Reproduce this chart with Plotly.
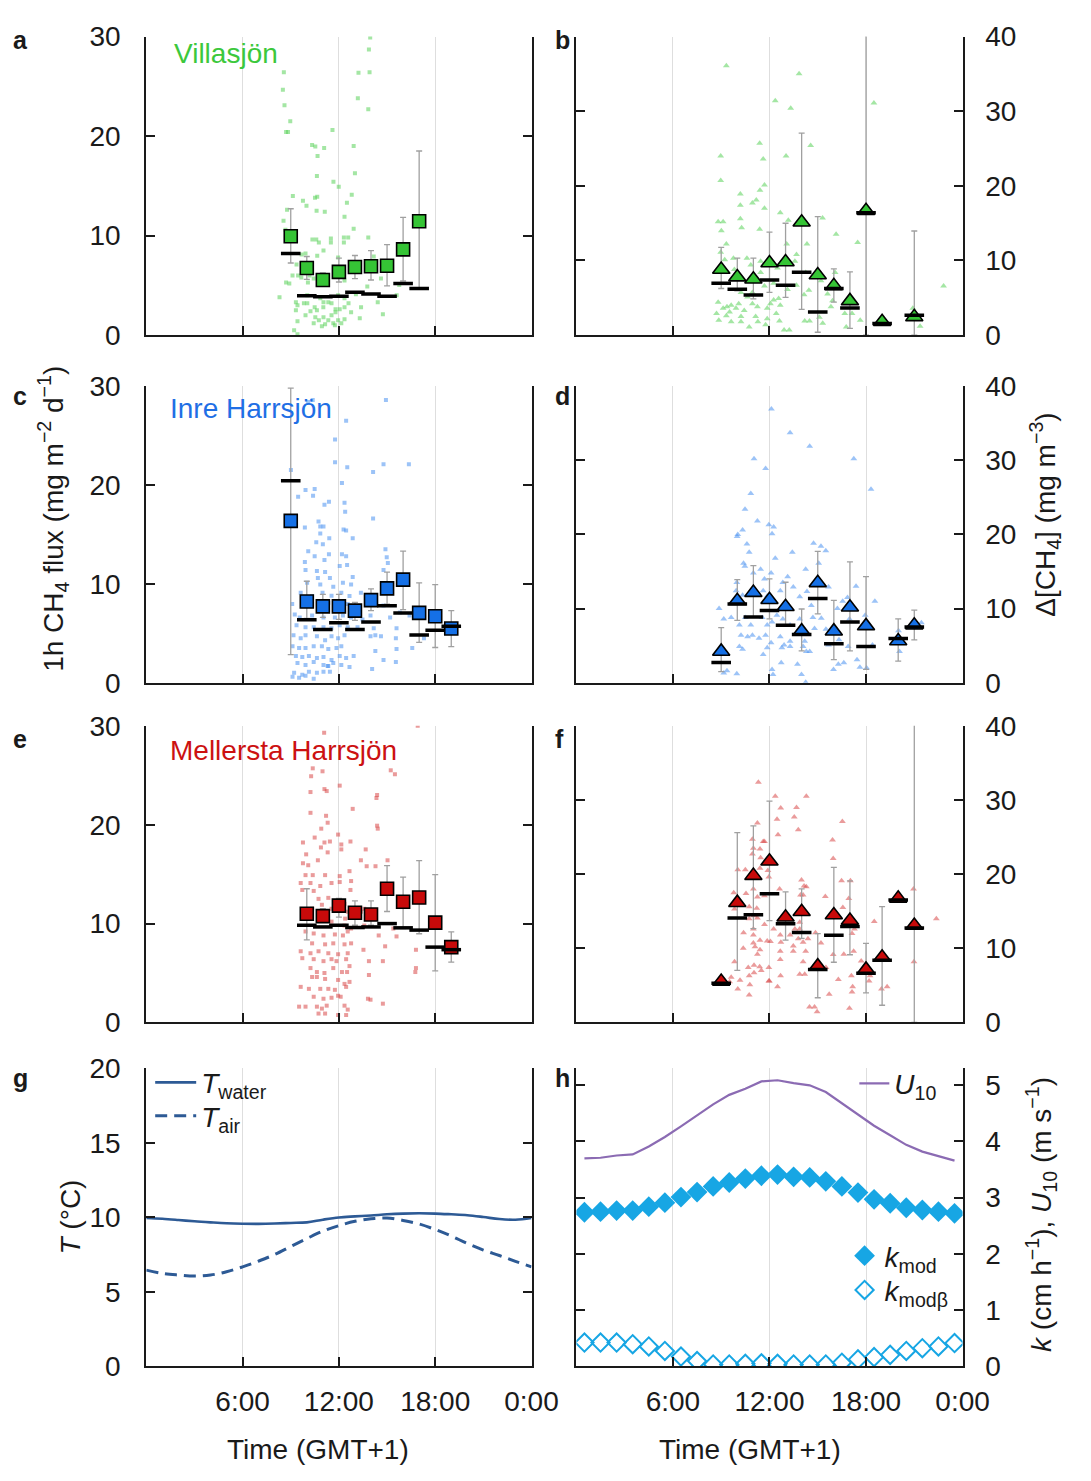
import plotly.graph_objects as go

FONT = "Liberation Sans, Arial, Helvetica, sans-serif"
INK = "#1a1a1a"
W, H = 1091, 1481

# ---------------- data ----------------
# a: Villasjön, 1 h CH4 flux (mg m-2 d-1)
A_PTS = [(8.57,26.4),(8.51,24.65),(8.61,23.1),(8.97,21.5),(8.71,20.4),(8.83,20.4),(13.95,29.9),(13.87,28.7),
         (13.91,26.4),(13.22,26.35),(13.18,23.8),(13.83,22.7),(11.6,20.6),(10.33,19.1),(10.53,18.95),(11.08,18.8),
         (10.67,18.0),(12.92,19.0),(10.63,16.0),(11.66,15.4),(11.99,14.9),(13.0,16.26),(9.13,13.97),(9.76,13.5),
         (10.51,13.8),(10.65,13.9),(12.8,14.1),(9.98,13.0),(8.77,12.6),(10.61,12.5),(11.12,12.4),(12.5,13.3),
         (12.35,11.9),(8.55,11.5),(12.92,10.7),(8.67,10.6),(10.35,9.6),(10.59,9.6),(11.5,9.7),(12.31,9.8),
         (12.58,9.8),(13.83,9.8),(10.75,9.3),(11.5,9.3),(12.31,9.3),(11.04,8.5),(10.65,7.98),(11.95,7.8),
         (14.17,7.9),(9.68,8.1),(9.92,8.2),(9.36,7.1),(9.11,5.99),(9.46,5.99),(9.66,5.8),(10.17,5.99),(10.43,5.7),
         (8.71,5.3),(8.91,5.2),(10.07,5.3),(11.06,5.5),(12.35,5.5),(14.62,5.7),(15.76,5.05),(8.3,3.81),(9.32,3.3),
         (9.42,3.0),(10.03,3.2),(10.03,4.0),(11.54,3.2),(12.35,3.7),(12.6,3.2),(14.42,3.3),(13.38,2.8),(9.32,2.5),
         (10.63,2.5),(11.03,2.8),(11.79,2.6),(12.05,2.6),(11.79,2.3),(12.76,2.3),(14.74,2.1),(9.92,2.0),(10.53,1.8),
         (11.04,1.8),(11.54,2.0),(13.3,1.7),(9.42,1.4),(10.75,1.5),(11.34,1.5),(11.95,1.5),(10.43,1.2),(11.14,1.1),
         (11.65,1.2),(12.15,1.2),(9.21,0.5),(9.42,0.1),(10.94,0.9),(11.75,1.0),(12.35,1.6),(9.82,3.2),(10.84,3.7),
         (11.34,3.3),(12.35,2.8),(13.06,4.1),(13.77,4.9),(11.95,4.0),(15.6,4.0),(11.04,3.3),(10.23,2.4),(10.49,2.8)]
HOURS_A = [9, 10, 11, 12, 13, 14, 15, 16, 17]
MEAN_A = [9.93, 6.75, 5.54, 6.36, 6.85, 6.92, 6.98, 8.62, 11.44]
MED_A = [8.2, 3.97, 3.87, 3.9, 4.3, 4.13, 3.9, 5.2, 4.69]
HI_A = [12.7, 7.9, 6.26, 7.74, 8.0, 8.49, 9.1, 11.83, 18.5]
LO_A = [7.25, 5.6, 4.95, 5.34, 5.67, 5.54, 4.95, 5.44, 4.6]

# b: Villasjön, delta CH4 (mg m-3)
B_PTS = [(9.32,36.1),(13.84,35.0),(12.36,31.4),(13.32,30.4),(18.49,31.1),(11.39,25.7),(11.61,23.6),(13.03,24.0),
         (14.56,25.4),(8.97,24.0),(8.97,20.7),(11.69,20.1),(11.41,19.4),(10.19,18.9),(10.19,17.4),(10.94,17.7),
         (11.18,18.1),(11.69,17.0),(12.67,16.4),(13.17,15.4),(15.3,15.7),(8.81,15.2),(9.12,15.2),(9.01,14.0),
         (10.19,15.6),(10.27,14.4),(11.39,14.2),(16.14,13.5),(17.48,12.4),(14.33,12.2),(9.32,12.2),(8.97,11.1),
         (13.07,12.2),(13.68,10.8),(9.22,10.1),(9.76,10.3),(10.6,10.3),(11.45,9.9),(10.84,9.4),(12.5,9.0),
         (13.58,9.9),(14.25,8.4),(9.82,8.8),(9.42,8.4),(16.08,8.4),(11.69,6.6),(11.45,8.4),(12.26,6.95),
         (13.68,6.7),(14.45,6.0),(14.15,5.4),(15.2,7.3),(15.61,5.5),(12.57,4.9),(13.12,6.1),(10.23,5.7),
         (10.64,5.1),(10.94,5.7),(15.82,3.8),(15.92,4.6),(8.81,4.4),(9.12,3.6),(9.36,3.8),(9.62,4.0),(9.92,3.6),
         (10.09,4.2),(9.52,3.1),(10.43,3.3),(10.94,4.2),(11.25,3.8),(11.86,3.6),(12.06,4.2),(12.26,4.7),
         (12.67,4.0),(8.71,2.9),(8.85,2.0),(9.32,2.6),(9.62,1.8),(10.23,2.5),(10.23,1.8),(10.74,1.1),(11.14,2.5),
         (11.28,1.8),(11.86,2.2),(11.76,1.4),(12.42,2.9),(12.62,1.9),(12.91,0.7),(13.23,0.7),(14.19,1.9),
         (14.49,1.9),(15.1,2.4),(15.31,1.6),(16.68,2.9),(17.13,2.9),(16.77,1.1),(17.64,2.0),(20.91,3.6),
         (21.36,1.2),(22.82,6.6)]
HOURS_B = [9, 10, 11, 12, 13, 14, 15, 16, 17, 18, 19, 21]
MEAN_B = [8.79, 7.78, 7.48, 9.66, 9.79, 15.13, 8.05, 6.6, 4.59, 16.66, 1.79, 2.45]
MED_B = [6.95, 6.16, 5.38, 7.39, 6.69, 8.43, 3.1, 6.25, 3.63, 16.4, 1.57, 2.66]
HI_B = [11.76, 10.32, 10.32, 13.8, 14.99, 27.06, 15.87, 8.88, 8.48, 42.0, 1.79, 13.95]
LO_B = [6.25, 5.94, 4.85, 5.73, 5.07, 3.45, 0.39, 4.42, 0.92, 0.0, 1.79, 0.0]

# c: Inre Harrsjön, flux
C_PTS = [(10.37,28.6),(10.09,28.4),(14.93,28.6),(12.45,26.5),(11.76,24.6),(11.76,22.3),(12.52,21.8),(14.78,22.1),
         (14.13,21.3),(16.36,22.1),(9.01,21.5),(9.92,19.5),(10.49,19.6),(9.46,18.8),(10.39,18.9),(11.1,18.0),
         (11.38,18.3),(12.19,20.2),(12.35,18.2),(12.39,17.3),(14.13,16.6),(9.88,15.7),(10.73,16.3),(10.84,15.8),
         (11.04,15.8),(12.29,15.5),(12.45,15.4),(12.86,14.6),(10.84,15.1),(11.4,14.6),(10.59,14.2),(11.0,14.0),
         (10.09,13.3),(10.49,12.8),(11.1,12.4),(11.38,13.0),(12.19,13.0),(12.45,12.8),(12.05,11.8),(12.51,11.9),
         (9.88,12.2),(9.92,11.4),(10.63,11.3),(11.14,11.2),(12.86,10.7),(14.9,13.5),(14.98,12.7),(15.05,12.1),
         (14.78,11.4),(10.69,10.6),(11.44,10.6),(10.02,10.1),(10.84,9.94),(11.65,9.7),(12.25,10.1),(12.76,9.94),
         (9.62,9.1),(10.33,8.77),(10.98,9.1),(11.54,8.8),(12.15,9.1),(12.66,8.77),(13.37,9.1),(9.09,7.96),
         (10.33,7.96),(11.34,8.1),(11.71,7.8),(12.55,7.96),(14.78,7.8),(9.25,6.9),(9.56,6.6),(10.33,6.8),
         (11.04,6.6),(11.75,6.6),(12.25,6.8),(12.76,6.6),(13.47,6.4),(13.97,6.8),(15.19,6.6),(15.8,7.1),
         (9.36,5.8),(9.92,5.6),(10.43,5.6),(11.04,5.6),(11.54,5.5),(12.05,5.8),(12.55,5.6),(13.16,5.6),
         (14.17,5.5),(15.59,5.5),(16.4,6.8),(17.3,4.5),(9.17,4.8),(9.62,4.5),(9.92,4.8),(10.63,4.7),(11.14,4.3),
         (11.54,4.7),(11.95,4.5),(12.35,4.8),(13.97,4.7),(14.27,4.8),(14.62,4.7),(15.55,4.5),(16.57,3.5),
         (9.11,3.7),(9.52,3.5),(9.92,3.5),(10.43,3.7),(10.94,3.7),(11.34,3.4),(11.85,3.5),(12.15,3.7),
         (12.92,2.7),(14.27,3.2),(15.59,3.4),(9.32,2.7),(9.72,2.6),(10.13,2.7),(10.63,2.5),(11.04,2.6),
         (11.54,2.3),(12.05,2.7),(12.45,2.5),(14.78,2.3),(15.55,2.1),(9.42,2.0),(9.92,1.8),(10.43,2.1),
         (11.04,1.8),(11.34,1.7),(11.65,2.0),(12.15,1.8),(12.66,1.6),(14.07,1.4),(9.21,1.0),(9.72,0.8),
         (10.13,1.1),(10.63,1.0),(11.04,1.1),(11.44,1.1),(9.11,0.6),(9.52,0.5),(9.92,0.7),(10.43,0.4),(11.3,1.7)]
HOURS_C = [9, 10, 11, 12, 13, 14, 15, 16, 17, 18, 19]
MEAN_C = [16.37, 8.22, 7.72, 7.72, 7.29, 8.35, 9.54, 10.43, 7.06, 6.73, 5.48]
MED_C = [20.43, 6.37, 5.38, 6.07, 5.38, 6.14, 7.79, 7.06, 4.82, 5.31, 5.71]
HI_C = [29.8, 10.26, 8.94, 8.94, 8.12, 9.5, 11.19, 13.3, 10.1, 9.93, 7.3]
LO_C = [2.84, 6.5, 6.6, 6.4, 6.3, 7.3, 7.95, 7.4, 4.09, 3.56, 3.66]

# d: Inre Harrsjön, delta CH4
D_PTS = [(12.12,36.9),(13.28,33.7),(14.5,31.9),(11.04,30.2),(17.24,30.2),(11.76,28.9),(18.31,26.1),(10.84,25.5),
         (10.48,23.4),(11.25,21.8),(10.33,20.6),(10.03,20.0),(9.99,19.7),(11.96,21.3),(12.26,21.0),(12.16,20.1),
         (10.6,18.7),(10.74,17.6),(12.36,16.8),(13.42,17.6),(14.74,18.8),(15.2,18.4),(15.5,17.8),(10.39,16.1),
         (10.47,15.7),(11.0,14.8),(11.45,15.3),(12.1,14.8),(14.25,15.3),(15.06,16.1),(13.13,14.3),(12.83,13.5),
         (11.69,14.0),(9.97,13.5),(9.93,12.4),(10.33,11.8),(11.08,12.1),(11.61,12.4),(11.86,11.7),(12.67,12.4),
         (13.48,12.9),(14.33,12.3),(13.88,11.6),(14.6,10.4),(15.67,12.9),(16.55,11.0),(16.85,11.5),(17.38,13.0),
         (18.55,11.0),(8.87,10.0),(9.16,8.6),(9.62,8.8),(10.13,7.8),(10.5,8.8),(10.84,7.8),(11.55,8.8),(11.86,7.8),
         (12.16,8.2),(12.46,9.1),(12.83,8.6),(13.28,7.8),(13.88,8.6),(14.7,8.8),(15.22,8.7),(15.51,7.2),(16.22,10.0),
         (16.97,8.6),(17.95,9.1),(10.23,6.4),(10.64,6.2),(10.94,6.4),(11.35,6.0),(11.76,6.4),(12.1,5.4),(12.67,6.2),
         (12.91,5.1),(13.28,5.6),(14.19,5.6),(14.5,4.2),(14.8,7.3),(15.67,5.1),(16.32,5.8),(16.89,4.9),(18.4,5.1),
         (20.02,7.0),(20.08,4.2),(21.44,8.1),(10.13,4.9),(10.33,4.5),(11.61,3.8),(11.86,4.7),(12.77,4.7),
         (13.28,4.9),(14.09,4.9),(14.29,4.2),(17.44,3.1),(17.62,2.1),(16.28,2.5),(16.62,2.7),(15.98,1.8),
         (18.04,2.0),(12.73,2.7),(13.74,2.5),(12.16,1.8),(12.22,1.1),(13.99,1.1),(14.25,0.05),(9.16,1.3),
         (9.36,1.6),(9.97,1.2)]
HOURS_D = [9, 10, 11, 12, 13, 14, 15, 16, 17, 18, 20, 21]
MEAN_D = [4.22, 11.05, 12.15, 11.18, 10.25, 6.95, 13.47, 6.95, 10.17, 7.66, 5.63, 7.74]
MED_D = [2.73, 10.6, 8.85, 9.73, 7.74, 6.51, 11.35, 5.24, 8.18, 4.88, 5.98, 7.52]
HI_D = [7.44, 13.9, 15.8, 14.0, 13.55, 9.94, 17.7, 11.1, 16.3, 14.3, 8.6, 9.8]
LO_D = [1.5, 8.4, 8.85, 8.6, 7.7, 4.3, 9.28, 3.12, 4.3, 1.8, 2.9, 5.77]

# e: Mellersta Harrsjön, flux
E_PTS = [(11.08,29.3),(16.91,30.0),(10.37,25.7),(10.98,25.4),(10.27,24.9),(15.23,25.5),(15.49,25.1),(11.1,23.6),
         (11.24,23.4),(10.23,23.3),(12.05,23.95),(14.38,23.0),(14.34,22.7),(12.86,21.6),(10.23,21.2),(11.2,20.9),
         (11.3,20.2),(10.9,19.6),(10.49,18.7),(14.38,19.9),(14.42,19.6),(11.95,19.0),(9.76,18.2),(10.88,17.7),
         (11.1,18.2),(11.44,18.3),(12.15,18.0),(12.72,18.3),(11.3,17.2),(12.15,17.5),(13.67,17.5),(9.96,17.0),
         (9.76,16.1),(10.09,15.9),(10.69,16.4),(13.37,16.4),(13.73,15.8),(14.28,15.8),(15.03,16.4),(9.92,14.9),
         (10.37,14.9),(11.14,14.9),(12.05,14.8),(12.66,15.3),(12.76,14.3),(9.62,14.1),(10.23,14.1),(10.84,13.8),
         (11.54,14.1),(12.05,14.2),(12.72,13.4),(9.72,13.4),(10.43,13.3),(10.73,12.5),(11.34,12.6),(11.75,12.0),
         (12.35,12.0),(10.94,11.9),(10.33,11.5),(11.04,11.2),(11.54,11.5),(12.55,11.2),(13.37,11.2),(13.58,11.5),
         (12.39,10.5),(9.92,10.7),(11.14,10.5),(11.54,10.2),(12.35,9.8),(12.76,9.5),(13.58,9.8),(15.39,9.5),
         (15.59,8.7),(14.48,8.8),(9.92,9.2),(10.43,9.0),(11.04,8.8),(11.75,8.9),(12.25,8.8),(12.55,9.2),
         (10.33,8.0),(11.14,7.9),(11.65,8.0),(12.35,7.9),(12.76,8.0),(13.53,7.35),(14.88,7.7),(16.8,7.35),
         (9.62,7.2),(10.23,7.0),(10.73,7.2),(11.34,7.0),(11.95,6.9),(12.55,7.0),(9.72,6.5),(10.43,6.4),
         (11.04,6.2),(11.54,6.4),(11.85,6.2),(12.45,6.4),(12.66,5.7),(13.87,6.2),(14.74,6.2),(16.8,5.5),
         (16.76,5.1),(10.23,5.5),(10.63,5.1),(11.1,5.0),(11.65,5.5),(12.19,5.1),(12.51,5.1),(13.87,4.8),
         (10.33,4.6),(10.63,4.6),(11.14,4.4),(11.95,4.3),(12.35,3.9),(12.66,4.1),(9.62,3.6),(10.13,3.4),
         (10.84,3.4),(11.34,3.4),(11.75,3.3),(12.45,3.6),(11.95,2.7),(10.43,2.6),(11.04,2.4),(11.54,2.5),
         (12.11,2.6),(13.81,2.4),(14.74,1.9),(9.52,1.6),(9.92,1.6),(10.63,1.6),(10.94,1.4),(11.24,1.7),
         (12.35,1.7),(12.55,1.3),(10.73,0.9),(11.14,0.9),(11.95,0.75),(12.45,0.75),(13.97,2.3)]
HOURS_E = [10, 11, 12, 13, 14, 15, 16, 17, 18, 19]
MEAN_E = [10.99, 10.75, 11.81, 11.09, 10.92, 13.52, 12.21, 12.63, 10.1, 7.62]
MED_E = [9.83, 9.66, 9.83, 9.6, 9.66, 10.0, 9.57, 9.34, 7.62, 7.36]
HI_E = [13.52, 11.5, 12.54, 12.3, 12.3, 15.87, 14.7, 16.37, 14.95, 9.17]
LO_E = [8.35, 10.2, 10.65, 9.83, 9.83, 11.22, 9.5, 8.97, 5.21, 6.1]

# f: Mellersta Harrsjön, delta CH4
F_PTS = [(11.31,32.4),(12.36,30.5),(14.29,30.5),(12.7,28.9),(13.68,29.0),(13.54,27.7),(12.47,27.4),(13.79,26.0),
         (11.25,26.9),(16.53,27.1),(10.94,24.7),(11.61,24.4),(11.69,24.4),(12.53,25.3),(15.92,24.6),(11.41,23.4),
         (11.0,23.5),(11.45,22.2),(10.94,22.7),(15.96,22.1),(10.03,20.6),(10.5,20.6),(11.41,20.8),(11.9,20.5),
         (11.96,19.6),(16.48,19.1),(17.03,19.1),(13.99,19.2),(14.29,18.3),(14.15,18.4),(9.78,17.5),(10.54,17.4),
         (11.0,18.0),(11.25,16.9),(11.69,17.1),(12.63,18.0),(13.93,17.2),(14.09,17.2),(15.47,17.0),(16.93,16.7),
         (16.56,15.5),(20.95,18.0),(9.83,15.3),(10.74,15.6),(11.21,15.4),(11.04,14.4),(10.74,14.0),(11.25,14.1),
         (11.69,13.2),(12.26,12.6),(12.67,11.8),(13.28,11.8),(13.58,12.6),(13.88,13.5),(13.88,12.6),(14.39,11.3),
         (14.86,12.1),(17.13,12.0),(18.51,13.6),(17.28,12.6),(22.37,14.0),(10.39,12.1),(11.0,12.6),(11.0,11.8),
         (11.0,10.7),(11.41,11.1),(11.86,11.0),(12.06,10.9),(12.71,10.8),(13.48,10.3),(13.79,11.3),(14.09,10.8),
         (15.2,10.7),(10.37,10.0),(11.1,10.2),(11.41,9.8),(12.67,9.6),(11.25,9.2),(12.67,8.5),(13.48,9.6),
         (14.25,9.6),(15.96,9.15),(16.62,9.2),(17.23,9.6),(9.83,8.2),(10.68,7.4),(11.04,7.7),(11.39,7.5),
         (11.49,7.0),(11.96,7.4),(14.09,8.2),(14.9,7.6),(15.51,7.4),(17.7,8.3),(20.98,8.2),(9.62,6.1),(10.17,5.7),
         (10.74,6.3),(11.04,6.7),(11.99,5.6),(12.69,6.3),(13.88,6.5),(14.19,6.5),(16.28,5.8),(17.09,6.3),
         (18.19,5.6),(9.52,5.5),(10.03,4.5),(10.78,5.1),(11.96,5.6),(12.5,4.8),(17.17,4.8),(18.25,6.3),
         (19.31,4.8),(18.96,4.5),(10.74,3.7),(15.71,3.8),(17.13,4.1),(14.49,2.1),(14.8,2.1),(14.96,1.45),
         (16.97,1.9)]
HOURS_F = [9, 10, 11, 12, 13, 14, 15, 16, 17, 18, 19, 20, 21]
MEAN_F = [5.53, 16.15, 19.8, 21.74, 14.18, 14.93, 7.59, 14.49, 13.74, 7.15, 8.78, 16.73, 13.08]
MED_F = [5.27, 14.1, 14.53, 17.34, 13.3, 12.12, 7.15, 11.77, 12.95, 6.63, 8.38, 16.5, 12.73]
HI_F = [5.53, 25.6, 26.5, 29.85, 17.6, 18.0, 11.99, 20.9, 19.1, 10.67, 15.63, 16.73, 42.0]
LO_F = [5.53, 7.02, 12.65, 13.74, 11.1, 11.33, 3.33, 8.12, 9.13, 3.99, 2.32, 16.73, 0.0]

# g: temperatures (°C)
T_HOURS = list(range(25))
T_WATER = [9.95, 9.9, 9.82, 9.73, 9.66, 9.6, 9.57, 9.56, 9.58, 9.62, 9.66, 9.84, 9.99,
           10.06, 10.12, 10.2, 10.25, 10.27, 10.25, 10.2, 10.14, 10.02, 9.88, 9.84, 9.95]
T_AIR = [6.45, 6.23, 6.12, 6.05, 6.12, 6.34, 6.67, 7.06, 7.5, 8.04, 8.57, 9.07, 9.44,
         9.73, 9.9, 9.95, 9.79, 9.55, 9.18, 8.74, 8.24, 7.8, 7.43, 7.04, 6.67]

# h: wind speed and gas transfer velocities
H_HOURS = [h + 0.5 for h in range(24)]
U10 = [3.7, 3.71, 3.75, 3.77, 3.91, 4.08, 4.27, 4.47, 4.66, 4.83, 4.94, 5.07,
       5.09, 5.04, 5.0, 4.88, 4.68, 4.47, 4.28, 4.11, 3.94, 3.82, 3.74, 3.66]
K_MOD = [2.74, 2.75, 2.77, 2.77, 2.84, 2.91, 3.01, 3.10, 3.2, 3.27, 3.34, 3.39,
         3.41, 3.37, 3.36, 3.29, 3.2, 3.09, 2.97, 2.9, 2.82, 2.78, 2.75, 2.72]
K_MODB = [0.42, 0.42, 0.42, 0.39, 0.35, 0.27, 0.17, 0.09, 0.03, 0.03, 0.04, 0.05,
          0.04, 0.03, 0.03, 0.03, 0.06, 0.12, 0.16, 0.2, 0.27, 0.32, 0.35, 0.41]

TIME_TICKS = [6, 12, 18, 24]
TIME_LABELS = ["6:00", "12:00", "18:00", "0:00"]

# ---------------- styling ----------------
GREEN = dict(fill="#35c435", pt="#5ad25a", text="#3cc83c")
BLUE = dict(fill="#1570e6", pt="#4a92f0", text="#1f6fe5")
RED = dict(fill="#c80a0a", pt="#d94848", text="#cc1111")
T_COLOR = "#2d5a95"
U_COLOR = "#8b6bb3"
K_COLOR = "#17a6e4"

# panel boxes in pixels
COLS = {"L": (150, 545), "R": (591, 987)}
ROWS = [(22, 327), (379, 682), (726, 1029), (1076, 1380)]


def xdom(c):
    return [COLS[c][0] / W, COLS[c][1] / W]


def ydom(r):
    return [1 - ROWS[r][1] / H, 1 - ROWS[r][0] / H]


fig = go.Figure()


def flux_panel(n, pts, hours, mean, med, hi, lo, col, symbol, pt_size, big_size):
    xa, ya = ("x", "y") if n == 1 else (f"x{n}", f"y{n}")
    fig.add_trace(go.Scatter(
        x=[p[0] for p in pts], y=[p[1] for p in pts], mode="markers",
        marker=dict(symbol=symbol, size=pt_size, color=col["pt"], opacity=0.55, line=dict(width=0)),
        xaxis=xa, yaxis=ya, showlegend=False, hoverinfo="skip"))
    fig.add_trace(go.Scatter(
        x=hours, y=mean, mode="markers",
        marker=dict(symbol=symbol, size=big_size, color=col["fill"], line=dict(color="#000000", width=1.6)),
        error_y=dict(type="data", symmetric=False,
                     array=[max(h - m, 0) for h, m in zip(hi, mean)],
                     arrayminus=[max(m - l, 0) for m, l in zip(mean, lo)],
                     color="#a0a0a0", thickness=1.3, width=3),
        xaxis=xa, yaxis=ya, showlegend=False))
    fig.add_trace(go.Scatter(
        x=hours, y=med, mode="markers",
        marker=dict(symbol="line-ew", size=14, line=dict(color="#000000", width=3.5)),
        xaxis=xa, yaxis=ya, showlegend=False))


flux_panel(1, A_PTS, HOURS_A, MEAN_A, MED_A, HI_A, LO_A, GREEN, "square", 4, 13)
flux_panel(2, B_PTS, HOURS_B, MEAN_B, MED_B, HI_B, LO_B, GREEN, "triangle-up", 6, 15)
flux_panel(3, C_PTS, HOURS_C, MEAN_C, MED_C, HI_C, LO_C, BLUE, "square", 4, 13)
flux_panel(4, D_PTS, HOURS_D, MEAN_D, MED_D, HI_D, LO_D, BLUE, "triangle-up", 6, 15)
flux_panel(5, E_PTS, HOURS_E, MEAN_E, MED_E, HI_E, LO_E, RED, "square", 4, 13)
flux_panel(6, F_PTS, HOURS_F, MEAN_F, MED_F, HI_F, LO_F, RED, "triangle-up", 6, 15)

# g: temperature lines
fig.add_trace(go.Scatter(x=T_HOURS, y=T_WATER, mode="lines", line=dict(color=T_COLOR, width=2.6, shape="spline"),
                         name="<i>T</i><sub>water</sub>", xaxis="x7", yaxis="y7", legend="legend"))
fig.add_trace(go.Scatter(x=T_HOURS, y=T_AIR, mode="lines",
                         line=dict(color=T_COLOR, width=3, dash="12px,7px", shape="spline"),
                         name="<i>T</i><sub>air</sub>", xaxis="x7", yaxis="y7", legend="legend2"))

# h: wind and transfer velocities
fig.add_trace(go.Scatter(x=H_HOURS, y=U10, mode="lines", line=dict(color=U_COLOR, width=2.2),
                         name="<i>U</i><sub>10</sub>", xaxis="x8", yaxis="y8", legend="legend3"))
fig.add_trace(go.Scatter(x=H_HOURS, y=K_MOD, mode="markers",
                         marker=dict(symbol="diamond", size=16, color=K_COLOR),
                         name="<i>k</i><sub>mod</sub>", xaxis="x8", yaxis="y8", legend="legend4"))
fig.add_trace(go.Scatter(x=H_HOURS, y=K_MODB, mode="markers",
                         marker=dict(symbol="diamond-open", size=14, color=K_COLOR, line=dict(width=2)),
                         name="<i>k</i><sub>modβ</sub>", xaxis="x8", yaxis="y8", legend="legend5"))

# ---------------- axes ----------------
tick_font = dict(family=FONT, size=28, color=INK)


def xaxis(col, row, labels):
    return dict(domain=xdom(col), range=[0, 24], tickvals=TIME_TICKS, ticktext=TIME_LABELS,
                showticklabels=labels, ticks="inside", ticklen=9, tickwidth=2, tickcolor=INK,
                showline=True, linecolor=INK, linewidth=2, mirror=False,
                showgrid=True, gridcolor="#dedede", gridwidth=1, zeroline=False,
                tickfont=tick_font, ticklabelstandoff=9, fixedrange=True)


def yaxis(row, rng, dtick, side, anchor):
    return dict(domain=ydom(row), range=rng, dtick=dtick, tick0=0, side=side, anchor=anchor,
                ticks="inside", ticklen=9, tickwidth=2, tickcolor=INK,
                showline=True, linecolor=INK, linewidth=2, mirror="ticks",
                showgrid=False, zeroline=False, tickfont=tick_font,
                ticklabelstandoff=18 if side == "left" else 15, fixedrange=True)


layout_axes = {}
specs = [(1, "L", 0, [0, 30], 10, "left"), (2, "R", 0, [0, 40], 10, "right"),
         (3, "L", 1, [0, 30], 10, "left"), (4, "R", 1, [0, 40], 10, "right"),
         (5, "L", 2, [0, 30], 10, "left"), (6, "R", 2, [0, 40], 10, "right"),
         (7, "L", 3, [0, 20], 5, "left"), (8, "R", 3, [0, 5.3], 1, "right")]
for n, col, row, rng, dt, side in specs:
    sx = "" if n == 1 else str(n)
    xa = xaxis(col, row, row == 3)
    xa["anchor"] = "y" + sx
    layout_axes["xaxis" + sx] = xa
    layout_axes["yaxis" + sx] = yaxis(row, rng, dt, side, "x" + sx)

# ---------------- text ----------------
annotations = []


def ann(text, x, y, size=28, color=INK, xanchor="left", yanchor="middle", angle=0):
    annotations.append(dict(text=text, x=x / W, y=1 - y / H, xref="paper", yref="paper",
                            xanchor=xanchor, yanchor=yanchor, textangle=angle, showarrow=False,
                            font=dict(family=FONT, size=size, color=color)))


for letter, lx, ly in [("a", 11, 26), ("b", 567, 26), ("c", 11, 389), ("d", 567, 389),
                       ("e", 11, 739), ("f", 567, 739), ("g", 11, 1086), ("h", 567, 1086)]:
    ann(f"<b>{letter}</b>", lx, ly, size=25)

ann("Villasjön", 176, 39, color=GREEN["text"])
ann("Inre Harrsjön", 172, 402, color=BLUE["text"])
ann("Mellersta Harrsjön", 172, 751, color=RED["text"])

ann("1h CH<sub>4</sub> flux (mg m<sup>−2</sup> d<sup>−1</sup>)", 55, 515, xanchor="center", angle=-90)
ann("Δ[CH<sub>4</sub>] (mg m<sup>−3</sup>)", 1072, 510, xanchor="center", angle=-90)
ann("<i>T</i> (°C)", 72, 1228, xanchor="center", angle=-90)
ann("<i>k</i> (cm h<sup>−1</sup>), <i>U</i><sub>10</sub> (m s<sup>−1</sup>)", 1068, 1225,
    xanchor="center", angle=-90)
ann("Time (GMT+1)", 326, 1465, xanchor="center")
ann("Time (GMT+1)", 769, 1465, xanchor="center")

legend_font = dict(family=FONT, size=28, color=INK)


def legend_box(x, y, itemwidth=30):
    return dict(x=x / W, y=1 - y / H, xanchor="left", yanchor="top", bgcolor="rgba(0,0,0,0)",
                font=legend_font, itemwidth=itemwidth)


fig.update_layout(
    width=W, height=H, margin=dict(l=0, r=0, t=0, b=0),
    paper_bgcolor="white", plot_bgcolor="white",
    font=dict(family=FONT, color=INK),
    annotations=annotations,
    legend=legend_box(154, 1065, 41),
    legend2=legend_box(154, 1099, 41),
    legend3=legend_box(876, 1066),
    legend4=legend_box(866, 1242),
    legend5=legend_box(866, 1277),
    **layout_axes,
)

fig.write_html("out.html")
